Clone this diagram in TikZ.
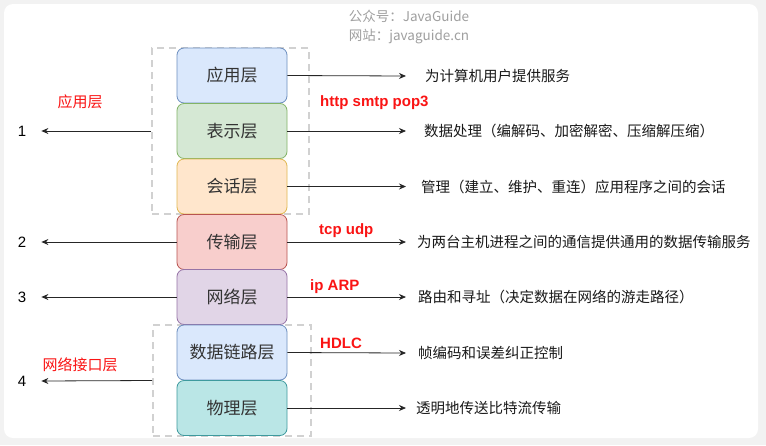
\documentclass[tikz,border=0pt]{standalone}
\usepackage{fontspec}
\setmainfont{Liberation Sans}
\newfontfamily\cjk{Noto Sans CJK SC}
\usepackage{tikz}
\usetikzlibrary{arrows.meta}
\usepackage{xcolor}
\definecolor{FillApp}{HTML}{DAE8FC}
\definecolor{DrawApp}{HTML}{6C8EBF}
\definecolor{FillPre}{HTML}{D5E8D4}
\definecolor{DrawPre}{HTML}{82B366}
\definecolor{FillSes}{HTML}{FFE6CC}
\definecolor{DrawSes}{HTML}{E0B850}
\definecolor{FillTra}{HTML}{F8CECC}
\definecolor{DrawTra}{HTML}{B85450}
\definecolor{FillNet}{HTML}{E1D5E7}
\definecolor{DrawNet}{HTML}{9673A6}
\definecolor{FillPhy}{HTML}{BAE6E6}
\definecolor{DrawPhy}{HTML}{3E9A9E}
\definecolor{ColRed}{RGB}{250,20,20}
\definecolor{ColMark}{RGB}{160,160,160}
\tikzstyle{Layer}=[rounded corners=7pt,minimum width=110pt,minimum height=55pt,
inner sep=0pt,line width=0.8pt,text=black!80,font=\cjk\fontsize{17}{20}\selectfont]
\tikzstyle{Group}=[draw=black!18,line width=2pt,dash pattern=on 7pt off 5pt,inner sep=0pt]
\tikzstyle{Desc}=[anchor=west,inner sep=0pt,text=black!90,font=\cjk\fontsize{14.5}{17}\selectfont]
\tikzstyle{Proto}=[anchor=west,inner sep=0pt,text=ColRed,font=\bfseries\fontsize{15}{18}\selectfont]
\tikzstyle{Tag}=[inner sep=0pt,text=ColRed,font=\cjk\fontsize{15}{18}\selectfont]
\tikzstyle{Num}=[inner sep=0pt,font=\fontsize{15}{18}\selectfont]
\tikzstyle{Mark}=[inner sep=0pt,text=ColMark,font=\cjk\fontsize{13.5}{16}\selectfont]
\tikzstyle{Arrow}=[black!85,line width=0.8pt,-{Stealth[length=7pt,width=6pt]}]

\begin{document}
\begin{tikzpicture}[x=1pt,y=-1pt]
        \useasboundingbox (0,0) rectangle (766,445);
        \fill[black!5] (0,0) rectangle (766,445);
        \fill[white,rounded corners=9pt] (4,4) rectangle (758,438);
        % watermark
        \node[Mark](m1)at(409,16){公众号：JavaGuide};
        \node[Mark](m2)at(409,37){网站：javaguide.cn};
        % dashed groups
        \node[Group,minimum width=157pt,minimum height=166pt](top)at(230.5,131){};
        \node[Group,minimum width=158pt,minimum height=111pt](bot)at(232,380.5){};
        % layers
        \node[Layer,draw=DrawApp,fill=FillApp](app)at(232,75.5){应用层};
        \node[Layer,draw=DrawPre,fill=FillPre](pre)at(232,131){表示层};
        \node[Layer,draw=DrawSes,fill=FillSes](ses)at(232,186.5){会话层};
        \node[Layer,draw=DrawTra,fill=FillTra](tra)at(232,242){传输层};
        \node[Layer,draw=DrawNet,fill=FillNet](net)at(232,297){网络层};
        \node[Layer,draw=DrawApp,fill=FillApp](lnk)at(232,352.5){数据链路层};
        \node[Layer,draw=DrawPhy,fill=FillPhy](phy)at(232,408){物理层};
        % descriptions
        \node[Desc](d1)at(425,76){为计算机用户提供服务};
        \node[Desc](d2)at(424,131){数据处理（编解码、加密解密、压缩解压缩）};
        \node[Desc](d3)at(421,186.5){管理（建立、维护、重连）应用程序之间的会话};
        \node[Desc](d4)at(417,242){为两台主机进程之间的通信提供通用的数据传输服务};
        \node[Desc](d5)at(418,297){路由和寻址（决定数据在网络的游走路径）};
        \node[Desc](d6)at(418,353){帧编码和误差纠正控制};
        \node[Desc](d7)at(416,408){透明地传送比特流传输};
        \draw[Arrow](app.east)--([xshift=-19pt]d1.west);
        \draw[Arrow](pre.east)--([xshift=-18pt]d2.west);
        \draw[Arrow](ses.east)--([xshift=-15pt]d3.west);
        \draw[Arrow](tra.east)--([xshift=-11pt]d4.west);
        \draw[Arrow](net.east)--([xshift=-12pt]d5.west);
        \draw[Arrow](lnk.east)--([xshift=-12pt]d6.west);
        \draw[Arrow](phy.east)--([xshift=-10pt]d7.west);
        % protocols
        \node[Proto](p1)at(320,103){http smtp pop3};
        \node[Proto](p2)at(319,231){tcp udp};
        \node[Proto](p3)at(310,287){ip ARP};
        \node[Proto](p4)at(320,343){HDLC};
        % left side
        \node[Num](n1)at(22,131){1};
        \node[Num](n2)at(22,242){2};
        \node[Num](n3)at(22,297){3};
        \node[Num](n4)at(22,381){4};
        \node[Tag](t1)at(80,102){应用层};
        \node[Tag](t4)at(80,365){网络接口层};
        \draw[Arrow](top.west)--([xshift=15pt]n1.east);
        \draw[Arrow](tra.west)--([xshift=15pt]n2.east);
        \draw[Arrow](net.west)--([xshift=15pt]n3.east);
        \draw[Arrow](bot.west)--([xshift=15pt]n4.east);
    \end{tikzpicture}
\end{document}
